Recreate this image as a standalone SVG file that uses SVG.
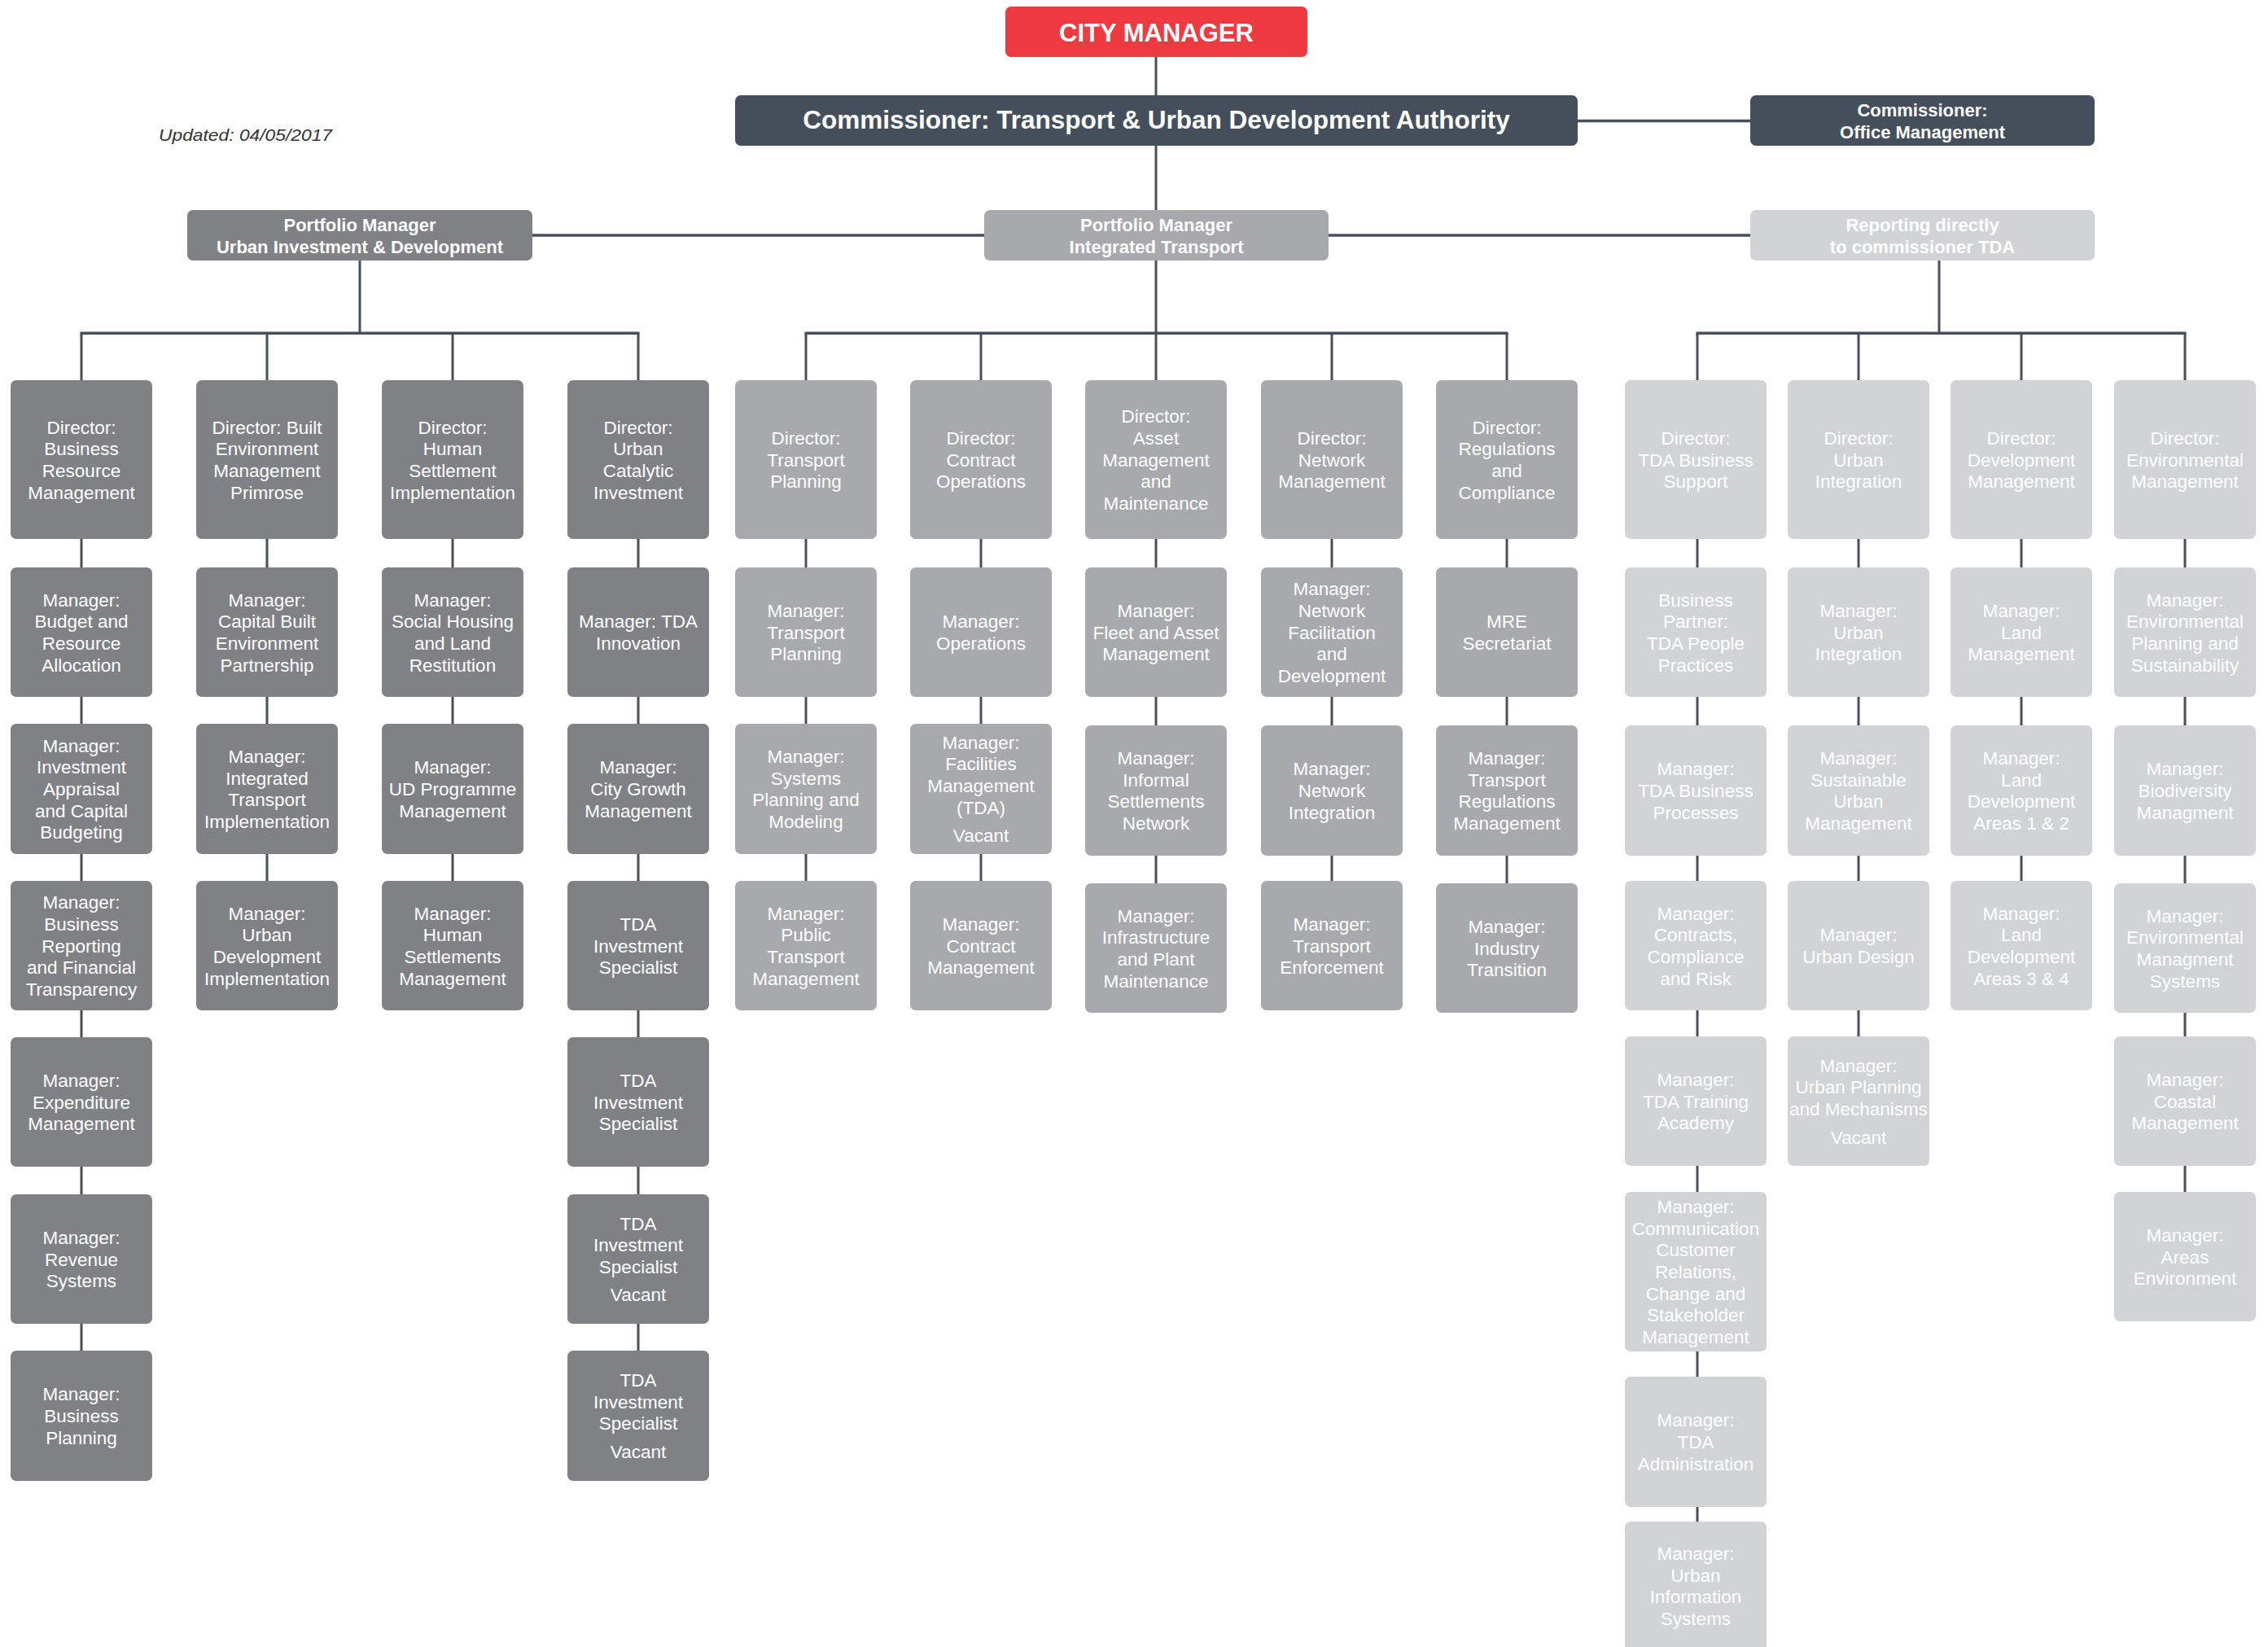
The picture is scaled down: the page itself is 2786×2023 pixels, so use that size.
<svg xmlns="http://www.w3.org/2000/svg" width="2786" height="2023" viewBox="0 0 2786 2023">
<style>
.t{font-family:"Liberation Sans",Arial,sans-serif;font-size:22.5px;fill:#fff;text-anchor:middle}
.h{font-family:"Liberation Sans",Arial,sans-serif;font-weight:bold;font-size:22px;fill:#fff;text-anchor:middle}
.big{font-size:31px}
.big2{font-size:31.5px}
.g1{fill:#808185}.g2{fill:#A7A9AC}.g3{fill:#D1D3D4}.dk{fill:#444F5B}.rd{fill:#EF3A42}
.ln{stroke:#46505C;stroke-width:3;fill:none}
.bus{stroke:#46505C;stroke-width:3.5;fill:none}
</style>
<rect width="2786" height="2023" fill="#fff"/>
<text x="195" y="173" font-family="'Liberation Sans',Arial,sans-serif" font-style="italic" font-size="21" fill="#333" textLength="213" lengthAdjust="spacingAndGlyphs">Updated: 04/05/2017</text>

<g id="connectors">
<path class="ln" d="M1420 70V117M1420 179V258M1420 320V467"/>
<path class="bus" d="M1938 148.5H2150M654 289H1209M1632 289H2150"/>
<path class="ln" d="M442 320V409M2382 320V409"/>
<path class="bus" d="M98.5 409.3H785.5M988.5 409.3H1852.5M2083.5 409.3H2685.5"/>
<path class="ln" d="M100 409V467M100 662V697M100 856V889M100 1049V1082M100 1241V1274M100 1433V1467M100 1626V1659"/>
<path class="ln" d="M328 409V467M328 662V697M328 856V889M328 1049V1082"/>
<path class="ln" d="M556 409V467M556 662V697M556 856V889M556 1049V1082"/>
<path class="ln" d="M784 409V467M784 662V697M784 856V889M784 1049V1082M784 1241V1274M784 1433V1467M784 1626V1659"/>
<path class="ln" d="M990 409V467M990 662V697M990 856V889M990 1049V1082"/>
<path class="ln" d="M1205 409V467M1205 662V697M1205 856V889M1205 1049V1082"/>
<path class="ln" d="M1420 662V697M1420 856V891M1420 1051V1085"/>
<path class="ln" d="M1636 409V467M1636 662V697M1636 856V891M1636 1051V1082"/>
<path class="ln" d="M1851 409V467M1851 662V697M1851 856V891M1851 1051V1085"/>
<path class="ln" d="M2085 409V467M2085 662V697M2085 856V891M2085 1051V1082M2085 1241V1273M2085 1432V1464M2085 1660V1691M2085 1851V1869"/>
<path class="ln" d="M2283 409V467M2283 662V697M2283 856V891M2283 1051V1082M2283 1241V1273"/>
<path class="ln" d="M2483 409V467M2483 662V697M2483 856V891M2483 1051V1082"/>
<path class="ln" d="M2684 409V467M2684 662V697M2684 856V891M2684 1051V1085M2684 1244V1273M2684 1432V1464"/>
</g>

<g id="city-manager"><rect class="rd" x="1235" y="8" width="371" height="62" rx="7"/><text class="h big" x="1420.5" y="50.5">CITY MANAGER</text></g>
<g id="commissioner-tda"><rect class="dk" x="903" y="117" width="1035" height="62" rx="7"/><text class="h big2" x="1420.5" y="158">Commissioner: Transport &amp; Urban Development Authority</text></g>
<g id="commissioner-office"><rect class="dk" x="2150" y="117" width="423" height="62" rx="7"/><text class="h" x="2361.5" y="143"><tspan x="2361.5">Commissioner:</tspan><tspan x="2361.5" dy="27">Office Management</tspan></text></g>
<g id="pm-uid"><rect class="g1" x="230" y="258" width="424" height="62" rx="7"/><text class="h" x="442" y="284"><tspan x="442">Portfolio Manager</tspan><tspan x="442" dy="26.5">Urban Investment &amp; Development</tspan></text></g>
<g id="pm-it"><rect class="g2" x="1209" y="258" width="423" height="62" rx="7"/><text class="h" x="1420.5" y="284"><tspan x="1420.5">Portfolio Manager</tspan><tspan x="1420.5" dy="26.5">Integrated Transport</tspan></text></g>
<g id="reporting-tda"><rect class="g3" x="2150" y="258" width="423" height="62" rx="7"/><text class="h" x="2361.5" y="284"><tspan x="2361.5">Reporting directly</tspan><tspan x="2361.5" dy="26.5">to commissioner TDA</tspan></text></g>

<!-- Urban Investment & Development -->
<g id="uid-c1-d"><rect class="g1" x="13" y="467" width="174" height="195" rx="7"/><text class="t" y="532.5"><tspan x="100">Director:</tspan><tspan x="100" dy="26.7">Business</tspan><tspan x="100" dy="26.7">Resource</tspan><tspan x="100" dy="26.7">Management</tspan></text></g>
<g id="uid-c1-2"><rect class="g1" x="13" y="697" width="174" height="159" rx="7"/><text class="t" y="744.5"><tspan x="100">Manager:</tspan><tspan x="100" dy="26.7">Budget and</tspan><tspan x="100" dy="26.7">Resource</tspan><tspan x="100" dy="26.7">Allocation</tspan></text></g>
<g id="uid-c1-3"><rect class="g1" x="13" y="889" width="174" height="160" rx="7"/><text class="t" y="923.6"><tspan x="100">Manager:</tspan><tspan x="100" dy="26.7">Investment</tspan><tspan x="100" dy="26.7">Appraisal</tspan><tspan x="100" dy="26.7">and Capital</tspan><tspan x="100" dy="26.7">Budgeting</tspan></text></g>
<g id="uid-c1-4"><rect class="g1" x="13" y="1082" width="174" height="159" rx="7"/><text class="t" y="1116.1"><tspan x="100">Manager:</tspan><tspan x="100" dy="26.7">Business</tspan><tspan x="100" dy="26.7">Reporting</tspan><tspan x="100" dy="26.7">and Financial</tspan><tspan x="100" dy="26.7">Transparency</tspan></text></g>
<g id="uid-c1-5"><rect class="g1" x="13" y="1274" width="174" height="159" rx="7"/><text class="t" y="1334.8"><tspan x="100">Manager:</tspan><tspan x="100" dy="26.7">Expenditure</tspan><tspan x="100" dy="26.7">Management</tspan></text></g>
<g id="uid-c1-6"><rect class="g1" x="13" y="1467" width="174" height="159" rx="7"/><text class="t" y="1527.8"><tspan x="100">Manager:</tspan><tspan x="100" dy="26.7">Revenue</tspan><tspan x="100" dy="26.7">Systems</tspan></text></g>
<g id="uid-c1-7"><rect class="g1" x="13" y="1659" width="174" height="160" rx="7"/><text class="t" y="1720.3"><tspan x="100">Manager:</tspan><tspan x="100" dy="26.7">Business</tspan><tspan x="100" dy="26.7">Planning</tspan></text></g>

<g id="uid-c2-d"><rect class="g1" x="241" y="467" width="174" height="195" rx="7"/><text class="t" y="532.5"><tspan x="328">Director: Built</tspan><tspan x="328" dy="26.7">Environment</tspan><tspan x="328" dy="26.7">Management</tspan><tspan x="328" dy="26.7">Primrose</tspan></text></g>
<g id="uid-c2-2"><rect class="g1" x="241" y="697" width="174" height="159" rx="7"/><text class="t" y="744.5"><tspan x="328">Manager:</tspan><tspan x="328" dy="26.7">Capital Built</tspan><tspan x="328" dy="26.7">Environment</tspan><tspan x="328" dy="26.7">Partnership</tspan></text></g>
<g id="uid-c2-3"><rect class="g1" x="241" y="889" width="174" height="160" rx="7"/><text class="t" y="937"><tspan x="328">Manager:</tspan><tspan x="328" dy="26.7">Integrated</tspan><tspan x="328" dy="26.7">Transport</tspan><tspan x="328" dy="26.7">Implementation</tspan></text></g>
<g id="uid-c2-4"><rect class="g1" x="241" y="1082" width="174" height="159" rx="7"/><text class="t" y="1129.5"><tspan x="328">Manager:</tspan><tspan x="328" dy="26.7">Urban</tspan><tspan x="328" dy="26.7">Development</tspan><tspan x="328" dy="26.7">Implementation</tspan></text></g>

<g id="uid-c3-d"><rect class="g1" x="469" y="467" width="174" height="195" rx="7"/><text class="t" y="532.5"><tspan x="556">Director:</tspan><tspan x="556" dy="26.7">Human</tspan><tspan x="556" dy="26.7">Settlement</tspan><tspan x="556" dy="26.7">Implementation</tspan></text></g>
<g id="uid-c3-2"><rect class="g1" x="469" y="697" width="174" height="159" rx="7"/><text class="t" y="744.5"><tspan x="556">Manager:</tspan><tspan x="556" dy="26.7">Social Housing</tspan><tspan x="556" dy="26.7">and Land</tspan><tspan x="556" dy="26.7">Restitution</tspan></text></g>
<g id="uid-c3-3"><rect class="g1" x="469" y="889" width="174" height="160" rx="7"/><text class="t" y="950.3"><tspan x="556">Manager:</tspan><tspan x="556" dy="26.7">UD Programme</tspan><tspan x="556" dy="26.7">Management</tspan></text></g>
<g id="uid-c3-4"><rect class="g1" x="469" y="1082" width="174" height="159" rx="7"/><text class="t" y="1129.5"><tspan x="556">Manager:</tspan><tspan x="556" dy="26.7">Human</tspan><tspan x="556" dy="26.7">Settlements</tspan><tspan x="556" dy="26.7">Management</tspan></text></g>

<g id="uid-c4-d"><rect class="g1" x="697" y="467" width="174" height="195" rx="7"/><text class="t" y="532.5"><tspan x="784">Director:</tspan><tspan x="784" dy="26.7">Urban</tspan><tspan x="784" dy="26.7">Catalytic</tspan><tspan x="784" dy="26.7">Investment</tspan></text></g>
<g id="uid-c4-2"><rect class="g1" x="697" y="697" width="174" height="159" rx="7"/><text class="t" y="771.2"><tspan x="784">Manager: TDA</tspan><tspan x="784" dy="26.7">Innovation</tspan></text></g>
<g id="uid-c4-3"><rect class="g1" x="697" y="889" width="174" height="160" rx="7"/><text class="t" y="950.3"><tspan x="784">Manager:</tspan><tspan x="784" dy="26.7">City Growth</tspan><tspan x="784" dy="26.7">Management</tspan></text></g>
<g id="uid-c4-4"><rect class="g1" x="697" y="1082" width="174" height="159" rx="7"/><text class="t" y="1142.8"><tspan x="784">TDA</tspan><tspan x="784" dy="26.7">Investment</tspan><tspan x="784" dy="26.7">Specialist</tspan></text></g>
<g id="uid-c4-5"><rect class="g1" x="697" y="1274" width="174" height="159" rx="7"/><text class="t" y="1334.8"><tspan x="784">TDA</tspan><tspan x="784" dy="26.7">Investment</tspan><tspan x="784" dy="26.7">Specialist</tspan></text></g>
<g id="uid-c4-6"><rect class="g1" x="697" y="1467" width="174" height="159" rx="7"/><text class="t" y="1510.5"><tspan x="784">TDA</tspan><tspan x="784" dy="26.7">Investment</tspan><tspan x="784" dy="26.7">Specialist</tspan><tspan x="784" dy="34.5">Vacant</tspan></text></g>
<g id="uid-c4-7"><rect class="g1" x="697" y="1659" width="174" height="160" rx="7"/><text class="t" y="1703"><tspan x="784">TDA</tspan><tspan x="784" dy="26.7">Investment</tspan><tspan x="784" dy="26.7">Specialist</tspan><tspan x="784" dy="34.5">Vacant</tspan></text></g>

<!-- Integrated Transport -->
<g id="it-c1-d"><rect class="g2" x="903" y="467" width="174" height="195" rx="7"/><text class="t" y="545.8"><tspan x="990">Director:</tspan><tspan x="990" dy="26.7">Transport</tspan><tspan x="990" dy="26.7">Planning</tspan></text></g>
<g id="it-c1-2"><rect class="g2" x="903" y="697" width="174" height="159" rx="7"/><text class="t" y="757.8"><tspan x="990">Manager:</tspan><tspan x="990" dy="26.7">Transport</tspan><tspan x="990" dy="26.7">Planning</tspan></text></g>
<g id="it-c1-3"><rect class="g2" x="903" y="889" width="174" height="160" rx="7"/><text class="t" y="937"><tspan x="990">Manager:</tspan><tspan x="990" dy="26.7">Systems</tspan><tspan x="990" dy="26.7">Planning and</tspan><tspan x="990" dy="26.7">Modeling</tspan></text></g>
<g id="it-c1-4"><rect class="g2" x="903" y="1082" width="174" height="159" rx="7"/><text class="t" y="1129.5"><tspan x="990">Manager:</tspan><tspan x="990" dy="26.7">Public</tspan><tspan x="990" dy="26.7">Transport</tspan><tspan x="990" dy="26.7">Management</tspan></text></g>

<g id="it-c2-d"><rect class="g2" x="1118" y="467" width="174" height="195" rx="7"/><text class="t" y="545.8"><tspan x="1205">Director:</tspan><tspan x="1205" dy="26.7">Contract</tspan><tspan x="1205" dy="26.7">Operations</tspan></text></g>
<g id="it-c2-2"><rect class="g2" x="1118" y="697" width="174" height="159" rx="7"/><text class="t" y="771.2"><tspan x="1205">Manager:</tspan><tspan x="1205" dy="26.7">Operations</tspan></text></g>
<g id="it-c2-3"><rect class="g2" x="1118" y="889" width="174" height="160" rx="7"/><text class="t" y="919.7"><tspan x="1205">Manager:</tspan><tspan x="1205" dy="26.7">Facilities</tspan><tspan x="1205" dy="26.7">Management</tspan><tspan x="1205" dy="26.7">(TDA)</tspan><tspan x="1205" dy="34.5">Vacant</tspan></text></g>
<g id="it-c2-4"><rect class="g2" x="1118" y="1082" width="174" height="159" rx="7"/><text class="t" y="1142.8"><tspan x="1205">Manager:</tspan><tspan x="1205" dy="26.7">Contract</tspan><tspan x="1205" dy="26.7">Management</tspan></text></g>

<g id="it-c3-d"><rect class="g2" x="1333" y="467" width="174" height="195" rx="7"/><text class="t" y="519.1"><tspan x="1420">Director:</tspan><tspan x="1420" dy="26.7">Asset</tspan><tspan x="1420" dy="26.7">Management</tspan><tspan x="1420" dy="26.7">and</tspan><tspan x="1420" dy="26.7">Maintenance</tspan></text></g>
<g id="it-c3-2"><rect class="g2" x="1333" y="697" width="174" height="159" rx="7"/><text class="t" y="757.8"><tspan x="1420">Manager:</tspan><tspan x="1420" dy="26.7">Fleet and Asset</tspan><tspan x="1420" dy="26.7">Management</tspan></text></g>
<g id="it-c3-3"><rect class="g2" x="1333" y="891" width="174" height="160" rx="7"/><text class="t" y="939"><tspan x="1420">Manager:</tspan><tspan x="1420" dy="26.7">Informal</tspan><tspan x="1420" dy="26.7">Settlements</tspan><tspan x="1420" dy="26.7">Network</tspan></text></g>
<g id="it-c3-4"><rect class="g2" x="1333" y="1085" width="174" height="159" rx="7"/><text class="t" y="1132.5"><tspan x="1420">Manager:</tspan><tspan x="1420" dy="26.7">Infrastructure</tspan><tspan x="1420" dy="26.7">and Plant</tspan><tspan x="1420" dy="26.7">Maintenance</tspan></text></g>

<g id="it-c4-d"><rect class="g2" x="1549" y="467" width="174" height="195" rx="7"/><text class="t" y="545.8"><tspan x="1636">Director:</tspan><tspan x="1636" dy="26.7">Network</tspan><tspan x="1636" dy="26.7">Management</tspan></text></g>
<g id="it-c4-2"><rect class="g2" x="1549" y="697" width="174" height="159" rx="7"/><text class="t" y="731.1"><tspan x="1636">Manager:</tspan><tspan x="1636" dy="26.7">Network</tspan><tspan x="1636" dy="26.7">Facilitation</tspan><tspan x="1636" dy="26.7">and</tspan><tspan x="1636" dy="26.7">Development</tspan></text></g>
<g id="it-c4-3"><rect class="g2" x="1549" y="891" width="174" height="160" rx="7"/><text class="t" y="952.3"><tspan x="1636">Manager:</tspan><tspan x="1636" dy="26.7">Network</tspan><tspan x="1636" dy="26.7">Integration</tspan></text></g>
<g id="it-c4-4"><rect class="g2" x="1549" y="1082" width="174" height="159" rx="7"/><text class="t" y="1142.8"><tspan x="1636">Manager:</tspan><tspan x="1636" dy="26.7">Transport</tspan><tspan x="1636" dy="26.7">Enforcement</tspan></text></g>

<g id="it-c5-d"><rect class="g2" x="1764" y="467" width="174" height="195" rx="7"/><text class="t" y="532.5"><tspan x="1851">Director:</tspan><tspan x="1851" dy="26.7">Regulations</tspan><tspan x="1851" dy="26.7">and</tspan><tspan x="1851" dy="26.7">Compliance</tspan></text></g>
<g id="it-c5-2"><rect class="g2" x="1764" y="697" width="174" height="159" rx="7"/><text class="t" y="771.2"><tspan x="1851">MRE</tspan><tspan x="1851" dy="26.7">Secretariat</tspan></text></g>
<g id="it-c5-3"><rect class="g2" x="1764" y="891" width="174" height="160" rx="7"/><text class="t" y="939"><tspan x="1851">Manager:</tspan><tspan x="1851" dy="26.7">Transport</tspan><tspan x="1851" dy="26.7">Regulations</tspan><tspan x="1851" dy="26.7">Management</tspan></text></g>
<g id="it-c5-4"><rect class="g2" x="1764" y="1085" width="174" height="159" rx="7"/><text class="t" y="1145.8"><tspan x="1851">Manager:</tspan><tspan x="1851" dy="26.7">Industry</tspan><tspan x="1851" dy="26.7">Transition</tspan></text></g>

<!-- Reporting directly to commissioner TDA -->
<g id="rep-c1-d"><rect class="g3" x="1996" y="467" width="174" height="195" rx="7"/><text class="t" y="545.8"><tspan x="2083">Director:</tspan><tspan x="2083" dy="26.7">TDA Business</tspan><tspan x="2083" dy="26.7">Support</tspan></text></g>
<g id="rep-c1-2"><rect class="g3" x="1996" y="697" width="174" height="159" rx="7"/><text class="t" y="744.5"><tspan x="2083">Business</tspan><tspan x="2083" dy="26.7">Partner:</tspan><tspan x="2083" dy="26.7">TDA People</tspan><tspan x="2083" dy="26.7">Practices</tspan></text></g>
<g id="rep-c1-3"><rect class="g3" x="1996" y="891" width="174" height="160" rx="7"/><text class="t" y="952.3"><tspan x="2083">Manager:</tspan><tspan x="2083" dy="26.7">TDA Business</tspan><tspan x="2083" dy="26.7">Processes</tspan></text></g>
<g id="rep-c1-4"><rect class="g3" x="1996" y="1082" width="174" height="159" rx="7"/><text class="t" y="1129.5"><tspan x="2083">Manager:</tspan><tspan x="2083" dy="26.7">Contracts,</tspan><tspan x="2083" dy="26.7">Compliance</tspan><tspan x="2083" dy="26.7">and Risk</tspan></text></g>
<g id="rep-c1-5"><rect class="g3" x="1996" y="1273" width="174" height="159" rx="7"/><text class="t" y="1333.8"><tspan x="2083">Manager:</tspan><tspan x="2083" dy="26.7">TDA Training</tspan><tspan x="2083" dy="26.7">Academy</tspan></text></g>
<g id="rep-c1-6"><rect class="g3" x="1996" y="1464" width="174" height="196" rx="7"/><text class="t" y="1489.9"><tspan x="2083">Manager:</tspan><tspan x="2083" dy="26.7">Communication</tspan><tspan x="2083" dy="26.7">Customer</tspan><tspan x="2083" dy="26.7">Relations,</tspan><tspan x="2083" dy="26.7">Change and</tspan><tspan x="2083" dy="26.7">Stakeholder</tspan><tspan x="2083" dy="26.7">Management</tspan></text></g>
<g id="rep-c1-7"><rect class="g3" x="1996" y="1691" width="174" height="160" rx="7"/><text class="t" y="1752.3"><tspan x="2083">Manager:</tspan><tspan x="2083" dy="26.7">TDA</tspan><tspan x="2083" dy="26.7">Administration</tspan></text></g>
<g id="rep-c1-8"><rect class="g3" x="1996" y="1869" width="174" height="160" rx="7"/><text class="t" y="1916"><tspan x="2083">Manager:</tspan><tspan x="2083" dy="26.7">Urban</tspan><tspan x="2083" dy="26.7">Information</tspan><tspan x="2083" dy="26.7">Systems</tspan></text></g>

<g id="rep-c2-d"><rect class="g3" x="2196" y="467" width="174" height="195" rx="7"/><text class="t" y="545.8"><tspan x="2283">Director:</tspan><tspan x="2283" dy="26.7">Urban</tspan><tspan x="2283" dy="26.7">Integration</tspan></text></g>
<g id="rep-c2-2"><rect class="g3" x="2196" y="697" width="174" height="159" rx="7"/><text class="t" y="757.8"><tspan x="2283">Manager:</tspan><tspan x="2283" dy="26.7">Urban</tspan><tspan x="2283" dy="26.7">Integration</tspan></text></g>
<g id="rep-c2-3"><rect class="g3" x="2196" y="891" width="174" height="160" rx="7"/><text class="t" y="939"><tspan x="2283">Manager:</tspan><tspan x="2283" dy="26.7">Sustainable</tspan><tspan x="2283" dy="26.7">Urban</tspan><tspan x="2283" dy="26.7">Management</tspan></text></g>
<g id="rep-c2-4"><rect class="g3" x="2196" y="1082" width="174" height="159" rx="7"/><text class="t" y="1156.2"><tspan x="2283">Manager:</tspan><tspan x="2283" dy="26.7">Urban Design</tspan></text></g>
<g id="rep-c2-5"><rect class="g3" x="2196" y="1273" width="174" height="159" rx="7"/><text class="t" y="1316.6"><tspan x="2283">Manager:</tspan><tspan x="2283" dy="26.7">Urban Planning</tspan><tspan x="2283" dy="26.7">and Mechanisms</tspan><tspan x="2283" dy="34.5">Vacant</tspan></text></g>

<g id="rep-c3-d"><rect class="g3" x="2396" y="467" width="174" height="195" rx="7"/><text class="t" y="545.8"><tspan x="2483">Director:</tspan><tspan x="2483" dy="26.7">Development</tspan><tspan x="2483" dy="26.7">Management</tspan></text></g>
<g id="rep-c3-2"><rect class="g3" x="2396" y="697" width="174" height="159" rx="7"/><text class="t" y="757.8"><tspan x="2483">Manager:</tspan><tspan x="2483" dy="26.7">Land</tspan><tspan x="2483" dy="26.7">Management</tspan></text></g>
<g id="rep-c3-3"><rect class="g3" x="2396" y="891" width="174" height="160" rx="7"/><text class="t" y="939"><tspan x="2483">Manager:</tspan><tspan x="2483" dy="26.7">Land</tspan><tspan x="2483" dy="26.7">Development</tspan><tspan x="2483" dy="26.7">Areas 1 &amp; 2</tspan></text></g>
<g id="rep-c3-4"><rect class="g3" x="2396" y="1082" width="174" height="159" rx="7"/><text class="t" y="1129.5"><tspan x="2483">Manager:</tspan><tspan x="2483" dy="26.7">Land</tspan><tspan x="2483" dy="26.7">Development</tspan><tspan x="2483" dy="26.7">Areas 3 &amp; 4</tspan></text></g>

<g id="rep-c4-d"><rect class="g3" x="2597" y="467" width="174" height="195" rx="7"/><text class="t" y="545.8"><tspan x="2684">Director:</tspan><tspan x="2684" dy="26.7">Environmental</tspan><tspan x="2684" dy="26.7">Management</tspan></text></g>
<g id="rep-c4-2"><rect class="g3" x="2597" y="697" width="174" height="159" rx="7"/><text class="t" y="744.5"><tspan x="2684">Manager:</tspan><tspan x="2684" dy="26.7">Environmental</tspan><tspan x="2684" dy="26.7">Planning and</tspan><tspan x="2684" dy="26.7">Sustainability</tspan></text></g>
<g id="rep-c4-3"><rect class="g3" x="2597" y="891" width="174" height="160" rx="7"/><text class="t" y="952.3"><tspan x="2684">Manager:</tspan><tspan x="2684" dy="26.7">Biodiversity</tspan><tspan x="2684" dy="26.7">Managment</tspan></text></g>
<g id="rep-c4-4"><rect class="g3" x="2597" y="1085" width="174" height="159" rx="7"/><text class="t" y="1132.5"><tspan x="2684">Manager:</tspan><tspan x="2684" dy="26.7">Environmental</tspan><tspan x="2684" dy="26.7">Managment</tspan><tspan x="2684" dy="26.7">Systems</tspan></text></g>
<g id="rep-c4-5"><rect class="g3" x="2597" y="1273" width="174" height="159" rx="7"/><text class="t" y="1333.8"><tspan x="2684">Manager:</tspan><tspan x="2684" dy="26.7">Coastal</tspan><tspan x="2684" dy="26.7">Management</tspan></text></g>
<g id="rep-c4-6"><rect class="g3" x="2597" y="1464" width="174" height="159" rx="7"/><text class="t" y="1524.8"><tspan x="2684">Manager:</tspan><tspan x="2684" dy="26.7">Areas</tspan><tspan x="2684" dy="26.7">Environment</tspan></text></g>
</svg>
